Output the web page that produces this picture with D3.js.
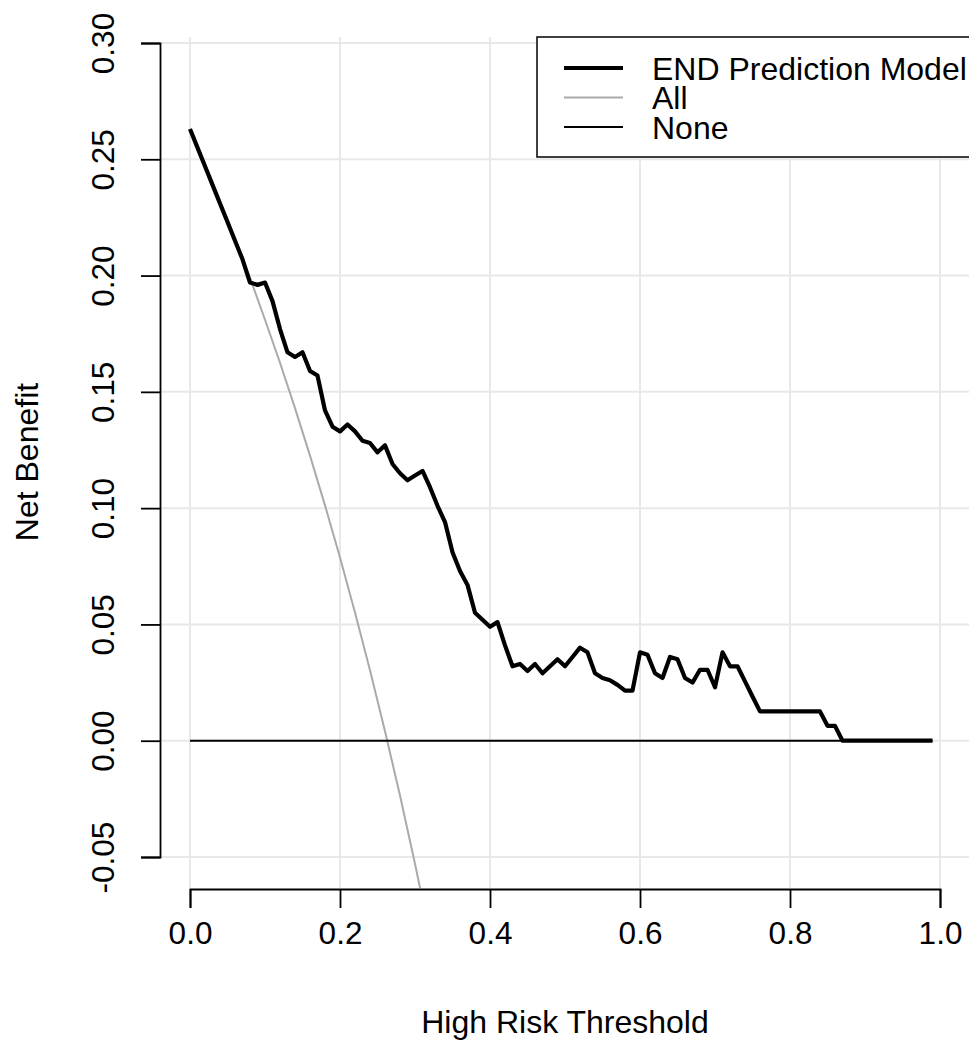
<!DOCTYPE html>
<html>
<head>
<meta charset="utf-8">
<script src="https://cdn.jsdelivr.net/npm/d3@7"></script>
<style>
  html, body { margin: 0; padding: 0; background: #fff; }
  svg { display: block; font-family: "Liberation Sans", Arial, Helvetica, sans-serif; }
  .grid line { stroke: #e8e8e8; stroke-width: 2; }
  .axis path, .axis line { stroke: #000; stroke-width: 1.8; }
  .axis text { font-size: 31.5px; fill: #000; }
</style>
</head>
<body>
<div id="graph"></div>
<script>
// thresholds (x) and net benefit
var thresholds = [0.00,0.01,0.02,0.03,0.04,0.05,0.06,0.07,0.08,0.09,
  0.10,0.11,0.12,0.13,0.14,0.15,0.16,0.17,0.18,0.19,
  0.20,0.21,0.22,0.23,0.24,0.25,0.26,0.27,0.28,0.29,
  0.30,0.31,0.32,0.33,0.34,0.35,0.36,0.37,0.38,0.39,
  0.40,0.41,0.42,0.43,0.44,0.45,0.46,0.47,0.48,0.49,
  0.50,0.51,0.52,0.53,0.54,0.55,0.56,0.57,0.58,0.59,
  0.60,0.61,0.62,0.63,0.64,0.65,0.66,0.67,0.68,0.69,
  0.70,0.71,0.72,0.73,0.74,0.75,0.76,0.77,0.78,0.79,
  0.80,0.81,0.82,0.83,0.84,0.85,0.86,0.87,0.88,0.89,
  0.90,0.91,0.92,0.93,0.94,0.95,0.96,0.97,0.98,0.99];

var modelNB = [0.263,0.255,0.247,0.239,0.231,0.223,0.215,0.207,0.197,0.196,
  0.197,0.189,0.177,0.167,0.165,0.167,0.159,0.157,0.142,0.135,
  0.133,0.136,0.133,0.129,0.128,0.124,0.127,0.119,0.115,0.112,
  0.114,0.116,0.109,0.101,0.094,0.081,0.073,0.067,0.055,0.052,
  0.049,0.051,0.041,0.032,0.033,0.030,0.033,0.029,0.032,0.035,
  0.032,0.036,0.040,0.038,0.029,0.027,0.026,0.024,0.0215,0.0215,
  0.038,0.037,0.029,0.027,0.036,0.035,0.027,0.025,0.0305,0.0305,
  0.023,0.038,0.032,0.032,0.0255,0.019,0.0126,0.0126,0.0126,0.0126,
  0.0126,0.0126,0.0126,0.0126,0.0126,0.0064,0.0064,0,0,0,
  0,0,0,0,0,0,0,0,0,0];

// "All" curve, read at coarser steps
var allThresholds = [0.00,0.02,0.04,0.06,0.08,0.10,0.12,0.14,0.16,0.18,0.20,0.22,0.24,0.26,0.28,0.30,0.32];
var allNB = [0.263,0.248,0.232,0.216,0.199,0.181,0.1625,0.143,0.1226,0.1012,0.0788,0.0551,0.0303,0.0041,-0.0236,-0.0529,-0.0838];

var noneThresholds = [0.00, 0.99];
var noneNB = [0, 0];

var xTicks = [0, 0.2, 0.4, 0.6, 0.8, 1.0];
var yTicks = [-0.05, 0, 0.05, 0.10, 0.15, 0.20, 0.25, 0.30];

var legendLabels = ["END Prediction Model", "All", "None"];
var legendColors = ["#000", "#aaaaaa", "#000"];
var legendWidths = [4, 2, 2];

var width = 969, height = 1040;
var plot = {left: 160, right: 970, top: 37, bottom: 888};

var x = d3.scaleLinear().domain([0, 1]).range([190, 940]);
var y = d3.scaleLinear().domain([-0.05, 0.30]).range([857, 43]);

var svg = d3.select("div#graph")
    .append("svg")
    .attr("width", width)
    .attr("height", height);

svg.append("defs").append("clipPath")
    .attr("id", "plotclip")
    .append("rect")
    .attr("x", plot.left)
    .attr("y", plot.top)
    .attr("width", plot.right - plot.left)
    .attr("height", plot.bottom - plot.top);

// grid
var grid = svg.append("g").attr("class", "grid");
grid.selectAll("line.v")
    .data(xTicks)
    .enter().append("line")
    .attr("class", "v")
    .attr("x1", function(d) {return x(d)})
    .attr("x2", function(d) {return x(d)})
    .attr("y1", plot.top)
    .attr("y2", plot.bottom);
grid.selectAll("line.h")
    .data(yTicks)
    .enter().append("line")
    .attr("class", "h")
    .attr("x1", plot.left)
    .attr("x2", plot.right)
    .attr("y1", function(d) {return y(d)})
    .attr("y2", function(d) {return y(d)});

var lines = svg.append("g").attr("clip-path", "url(#plotclip)");
var line = d3.line()
    .x(function(d) {return x(d[0])})
    .y(function(d) {return y(d[1])});

lines.append("path")
    .datum(d3.zip(allThresholds, allNB))
    .attr("d", line.curve(d3.curveMonotoneX))
    .attr("fill", "none")
    .attr("stroke", "#aaaaaa")
    .attr("stroke-width", 2);

line.curve(d3.curveLinear);

lines.append("path")
    .datum(d3.zip(noneThresholds, noneNB))
    .attr("d", line)
    .attr("fill", "none")
    .attr("stroke", "#000")
    .attr("stroke-width", 2);

lines.append("path")
    .datum(d3.zip(thresholds, modelNB))
    .attr("d", line)
    .attr("fill", "none")
    .attr("stroke", "#000")
    .attr("stroke-width", 4.2)
    .attr("stroke-linejoin", "round");

// axes
var xAxis = d3.axisBottom(x)
    .tickValues(xTicks)
    .tickFormat(d3.format(".1f"))
    .tickSizeOuter(0)
    .tickSize(19)
    .tickPadding(14);
svg.append("g")
    .attr("class", "axis xaxis")
    .attr("transform", "translate(0," + 889 + ")")
    .call(xAxis);

// R prints a plain hyphen for negatives
var fmt2 = d3.format(".2f");
var yAxis = d3.axisLeft(y)
    .tickValues(yTicks)
    .tickFormat(function(d) {return fmt2(d).replace("\u2212", "-")})
    .tickSizeOuter(0)
    .tickSize(19);
var ya = svg.append("g")
    .attr("class", "axis yaxis")
    .attr("transform", "translate(160,0)")
    .call(yAxis);
ya.selectAll(".tick text")
    .attr("x", null)
    .attr("dy", null)
    .attr("text-anchor", "middle")
    .attr("transform", "translate(-46,0) rotate(-90)");

// titles
svg.append("text")
    .attr("x", 565)
    .attr("y", 1033)
    .attr("text-anchor", "middle")
    .attr("font-size", 32)
    .text("High Risk Threshold");
svg.append("text")
    .attr("transform", "translate(38,462) rotate(-90)")
    .attr("text-anchor", "middle")
    .attr("font-size", 32)
    .text("Net Benefit");

// legend
var legend = svg.append("g").attr("class", "legend");
legend.append("rect")
    .attr("x", 537)
    .attr("y", 37)
    .attr("width", 445)
    .attr("height", 120)
    .attr("fill", "#fff")
    .attr("stroke", "#000")
    .attr("stroke-width", 1.5);
var rows = legend.selectAll("g.row")
    .data(legendLabels)
    .enter().append("g")
    .attr("class", "row")
    .attr("transform", function(d, i) {return "translate(0," + (68 + i * 29.5) + ")"});
rows.append("line")
    .attr("x1", 564).attr("x2", 623)
    .attr("y1", 0).attr("y2", 0)
    .attr("stroke", function(d, i) {return legendColors[i]})
    .attr("stroke-width", function(d, i) {return legendWidths[i]});
rows.append("text")
    .attr("x", 652)
    .attr("dy", "0.36em")
    .attr("font-size", 32)
    .text(function(d) {return d});
</script>
</body>
</html>
